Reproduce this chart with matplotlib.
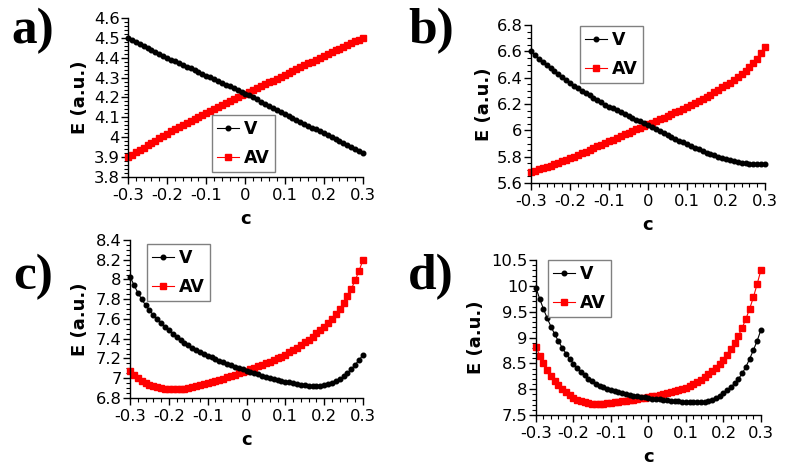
import numpy as np
import matplotlib
matplotlib.use("Agg")
import matplotlib.pyplot as plt
from matplotlib.ticker import MultipleLocator, FuncFormatter

# ---- data (c from -0.30 to 0.30 in 0.01 steps) ----
c = np.round(np.arange(-30, 31) / 100.0, 2)

a_V = [4.500, 4.490, 4.480, 4.470, 4.460, 4.450, 4.440, 4.430, 4.420, 4.410, 4.400,
       4.391, 4.382, 4.373, 4.364, 4.355, 4.346, 4.337, 4.328, 4.319, 4.310,
       4.301, 4.292, 4.283, 4.274, 4.265, 4.256, 4.247, 4.238, 4.229, 4.220,
       4.210, 4.200, 4.190, 4.179, 4.169, 4.158, 4.148, 4.138, 4.128, 4.118,
       4.108, 4.098, 4.089, 4.079, 4.069, 4.059, 4.049, 4.039, 4.029, 4.019,
       4.009, 3.999, 3.989, 3.979, 3.969, 3.959, 3.949, 3.939, 3.930, 3.921]
a_AV = [3.900, 3.912, 3.924, 3.936, 3.948, 3.960, 3.971, 3.983, 3.995, 4.007, 4.018,
        4.029, 4.039, 4.050, 4.060, 4.070, 4.080, 4.090, 4.100, 4.110, 4.120,
        4.130, 4.140, 4.150, 4.160, 4.170, 4.180, 4.190, 4.200, 4.210, 4.220,
        4.229, 4.239, 4.248, 4.257, 4.266, 4.276, 4.285, 4.294, 4.303, 4.312,
        4.322, 4.332, 4.341, 4.351, 4.361, 4.371, 4.381, 4.391, 4.400, 4.410,
        4.419, 4.428, 4.437, 4.446, 4.455, 4.464, 4.473, 4.482, 4.491, 4.500]

b_V = [6.600, 6.572, 6.545, 6.519, 6.494, 6.470, 6.447, 6.425, 6.403, 6.381, 6.360,
       6.340, 6.320, 6.301, 6.283, 6.265, 6.247, 6.230, 6.213, 6.196, 6.180,
       6.166, 6.152, 6.138, 6.124, 6.110, 6.096, 6.082, 6.068, 6.054, 6.040,
       6.025, 6.010, 5.995, 5.980, 5.965, 5.950, 5.936, 5.922, 5.908, 5.894,
       5.881, 5.868, 5.855, 5.843, 5.831, 5.820, 5.809, 5.799, 5.789, 5.780,
       5.772, 5.765, 5.759, 5.754, 5.750, 5.747, 5.745, 5.744, 5.744, 5.745]
b_AV = [5.686, 5.694, 5.703, 5.712, 5.722, 5.732, 5.743, 5.754, 5.765, 5.777, 5.789,
        5.801, 5.813, 5.826, 5.839, 5.852, 5.865, 5.878, 5.891, 5.904, 5.917,
        5.930, 5.943, 5.956, 5.969, 5.982, 5.995, 6.008, 6.021, 6.033, 6.045,
        6.058, 6.071, 6.084, 6.097, 6.110, 6.123, 6.136, 6.149, 6.162, 6.176,
        6.190, 6.205, 6.220, 6.236, 6.253, 6.271, 6.290, 6.309, 6.327, 6.345,
        6.363, 6.382, 6.404, 6.428, 6.453, 6.479, 6.508, 6.545, 6.587, 6.635]

c_V = [8.030, 7.945, 7.868, 7.800, 7.740, 7.688, 7.641, 7.598, 7.558, 7.520, 7.484,
       7.450, 7.418, 7.388, 7.360, 7.334, 7.310, 7.288, 7.267, 7.247, 7.228,
       7.210, 7.193, 7.176, 7.160, 7.145, 7.130, 7.116, 7.102, 7.089, 7.076,
       7.063, 7.051, 7.039, 7.027, 7.016, 7.005, 6.995, 6.985, 6.975, 6.966,
       6.958, 6.950, 6.942, 6.935, 6.929, 6.924, 6.921, 6.920, 6.922, 6.928,
       6.937, 6.950, 6.968, 6.990, 7.018, 7.052, 7.092, 7.138, 7.186, 7.236]
c_AV = [7.070, 7.030, 6.998, 6.972, 6.951, 6.934, 6.921, 6.910, 6.902, 6.896, 6.892,
        6.890, 6.890, 6.892, 6.896, 6.902, 6.911, 6.920, 6.929, 6.939, 6.950,
        6.961, 6.973, 6.985, 6.997, 7.010, 7.023, 7.036, 7.049, 7.063, 7.077,
        7.091, 7.105, 7.119, 7.134, 7.150, 7.167, 7.184, 7.202, 7.220, 7.239,
        7.262, 7.286, 7.311, 7.337, 7.364, 7.392, 7.422, 7.454, 7.487, 7.522,
        7.560, 7.602, 7.648, 7.700, 7.760, 7.830, 7.905, 7.995, 8.090, 8.200]

d_V = [9.960, 9.745, 9.550, 9.372, 9.210, 9.062, 8.926, 8.802, 8.690, 8.588, 8.495,
       8.410, 8.334, 8.266, 8.206, 8.154, 8.108, 8.068, 8.034, 8.005, 7.980,
       7.958, 7.938, 7.920, 7.904, 7.889, 7.875, 7.862, 7.850, 7.839, 7.829,
       7.819, 7.810, 7.801, 7.793, 7.785, 7.778, 7.771, 7.765, 7.759, 7.754,
       7.749, 7.746, 7.744, 7.745, 7.755, 7.768, 7.788, 7.825, 7.868, 7.918,
       7.975, 8.040, 8.115, 8.200, 8.305, 8.435, 8.590, 8.760, 8.940, 9.150]
d_AV = [8.820, 8.650, 8.500, 8.370, 8.258, 8.160, 8.074, 8.000, 7.936, 7.880, 7.833,
        7.795, 7.765, 7.744, 7.730, 7.722, 7.718, 7.718, 7.721, 7.727, 7.735,
        7.744, 7.754, 7.765, 7.776, 7.788, 7.800, 7.812, 7.824, 7.836, 7.849,
        7.862, 7.876, 7.890, 7.905, 7.921, 7.938, 7.957, 7.978, 8.001, 8.027,
        8.060, 8.098, 8.140, 8.186, 8.236, 8.290, 8.350, 8.416, 8.489, 8.570,
        8.662, 8.770, 8.895, 9.035, 9.190, 9.365, 9.560, 9.785, 10.040, 10.310]

panel_labels = ["a)", "b)", "c)", "d)"]
series_names = ["V", "AV"]
xlabel = "c"
ylabel = "E (a.u.)"

# ---- layout ----
fig = plt.figure(figsize=(7.88, 4.73), dpi=100)
plt.rcParams['font.family'] = ['DejaVu Sans']

panels = [
    dict(rect=[0.1624, 0.6258, 0.2982, 0.3362], V=a_V, AV=a_AV, ylim=(3.8, 4.6),
         major=0.1, minor=0.02, leg=(0.357, 0.39), ylab_x=-0.166,
         lab_xy=(11, 8)),
    dict(rect=[0.6739, 0.6131, 0.2970, 0.3340], V=b_V, AV=b_AV, ylim=(5.6, 6.8),
         major=0.2, minor=0.05, leg=(0.209, 0.994), ylab_x=-0.162,
         lab_xy=(408, 8)),
    dict(rect=[0.1650, 0.1586, 0.2957, 0.3340], V=c_V, AV=c_AV, ylim=(6.8, 8.4),
         major=0.2, minor=0.05, leg=(0.073, 0.975), ylab_x=-0.176,
         lab_xy=(13, 254)),
    dict(rect=[0.6802, 0.1226, 0.2855, 0.3277], V=d_V, AV=d_AV, ylim=(7.5, 10.5),
         major=0.5, minor=0.1, leg=(0.053, 1.0), ylab_x=-0.227,
         lab_xy=(408, 254)),
]

def fmt(v, pos):
    v = round(v, 6)
    if abs(v) < 1e-9:
        return "0"
    return f"{v:g}"

W, H = 788, 473
for p, lab in zip(panels, panel_labels):
    ax = fig.add_axes(p["rect"])
    ax.plot(c, p["V"], color="black", lw=0.8, marker="o", ms=3.3,
            mec="black", mfc="black", clip_on=False, label=series_names[0], zorder=3)
    ax.plot(c, p["AV"], color="#ff0000", lw=0.8, marker="s", ms=4.4,
            mec="#ff0000", mfc="#ff0000", clip_on=False, label=series_names[1], zorder=2)
    ax.set_xlim(-0.3, 0.3)
    ax.set_ylim(*p["ylim"])
    ax.spines["top"].set_visible(False)
    ax.spines["right"].set_visible(False)
    for s in ("left", "bottom"):
        ax.spines[s].set_linewidth(1.0)
    ax.xaxis.set_major_locator(MultipleLocator(0.1))
    ax.xaxis.set_minor_locator(MultipleLocator(0.02))
    ax.yaxis.set_major_locator(MultipleLocator(p["major"]))
    ax.yaxis.set_minor_locator(MultipleLocator(p["minor"]))
    ax.xaxis.set_major_formatter(FuncFormatter(fmt))
    ax.yaxis.set_major_formatter(FuncFormatter(fmt))
    ax.tick_params(which="major", direction="out", length=5, width=1,
                   labelsize=11.8, pad=1)
    ax.tick_params(which="minor", direction="out", length=3, width=0.8)
    ax.tick_params(axis="x", which="major", pad=3)
    ax.set_xlabel(xlabel, fontsize=13, fontweight="bold")
    ax.set_ylabel(ylabel, fontsize=13, fontweight="bold")
    ax.xaxis.set_label_coords(0.5, -0.21)
    ax.yaxis.set_label_coords(p["ylab_x"], 0.5)
    leg = ax.legend(loc="upper left", bbox_to_anchor=p["leg"], frameon=True,
                    fancybox=False, framealpha=1, edgecolor="#808080",
                    prop=dict(size=12.5, weight="bold"), handlelength=1.25,
                    handletextpad=0.3, borderpad=0.3, labelspacing=0.62,
                    borderaxespad=0.0)
    leg.get_frame().set_linewidth(1.0)
    lx, ly = p["lab_xy"]
    fig.text(lx / W, 1 - ly / H, lab, fontsize=37, fontweight="bold",
             family="Liberation Serif", ha="left", va="top")

fig.savefig("out.png", dpi=100)
